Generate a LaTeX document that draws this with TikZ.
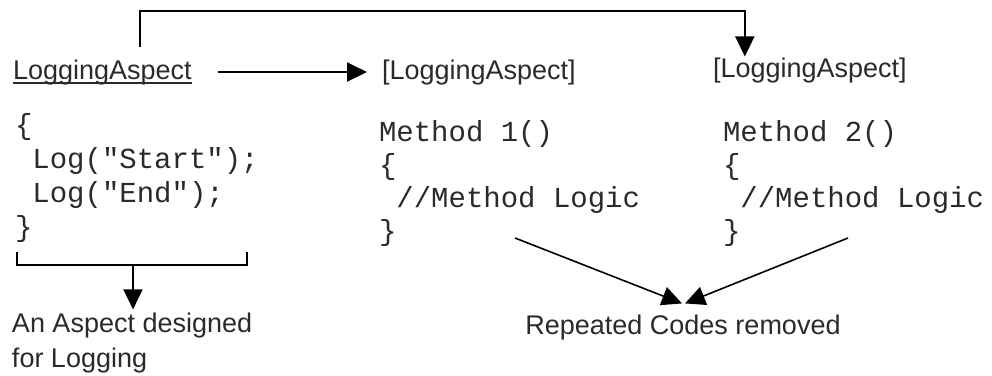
\documentclass[tikz,border=0pt]{standalone}
\usepackage{fontspec}
\setmainfont{Liberation Sans}
\setmonofont{Liberation Mono}
\usetikzlibrary{arrows.meta}
\definecolor{inkgray}{HTML}{2A2A2A}
\tikzset{
  lbl/.style={inner sep=0pt, outer sep=0pt, text=inkgray, font=\fontsize{27}{35}\selectfont},
  code/.style={inner sep=0pt, outer sep=0pt, align=left, text=inkgray},
  conn/.style={line width=2pt, draw=black},
  arr/.style={conn, -{Triangle[width=19pt,length=20pt]}},
  thinarr/.style={arr, line width=1.6pt},
}
\begin{document}
\begin{tikzpicture}[x=1pt,y=-1pt]
\useasboundingbox (0,0) rectangle (992,375);
% labels
\node[lbl, anchor=base west] (la) at (13,79) {LoggingAspect};
\node[lbl, anchor=base west] (la2) at (382,79) {[LoggingAspect]};
\node[lbl, anchor=base west] (la3) at (713,77) {[LoggingAspect]};
\draw[line width=1.2pt, inkgray] ([yshift=-4pt]la.base west) -- ([yshift=-4pt]la.base east);
% code blocks (base anchor = baseline of last line)
\node[code, anchor=base west, font=\ttfamily\fontsize{29}{34}\selectfont] (lb) at (15,236)
  {\{\\\hphantom{x}Log("Start");\\\hphantom{x}Log("End");\\\}};
\node[code, anchor=base west, font=\ttfamily\fontsize{29}{33}\selectfont] (m1) at (379,240)
  {Method 1()\\\{\\\hphantom{x}//Method Logic\\\}};
\node[code, anchor=base west, font=\ttfamily\fontsize{29}{33}\selectfont] (m2) at (723,240)
  {Method 2()\\\{\\\hphantom{x}//Method Logic\\\}};
% bottom texts
\node[lbl, anchor=base west, align=left] (asp) at (12,367) {An Aspect designed\\for Logging};
\node[lbl, anchor=base] (rep) at (683,334) {Repeated Codes removed};
% connectors
\draw[arr] ([xshift=38pt,yshift=12pt]la.north) -- ++(0,-36) -| ([xshift=-65pt,yshift=1pt]la3.north);
\draw[arr] ([xshift=26pt]la.east) -- ([xshift=-15pt]la2.west);
\coordinate (b1) at (17,252);
\coordinate (b2) at (247,252);
\coordinate (bl) at (17,265);
\coordinate (br) at (247,265);
\coordinate (bm) at (133,265);
\draw[conn, line width=1.6pt] (b1) -- (bl) -- (br) -- (b2);
\draw[thinarr] (bm) -- ([yshift=3pt]bm |- asp.north);
\coordinate (s1) at (515,238);
\coordinate (s2) at (848,238);
\draw[thinarr] (s1) -- ([xshift=-1pt,yshift=11pt]rep.north);
\draw[thinarr] (s2) -- ([xshift=2pt,yshift=11pt]rep.north);
\end{tikzpicture}
\end{document}
